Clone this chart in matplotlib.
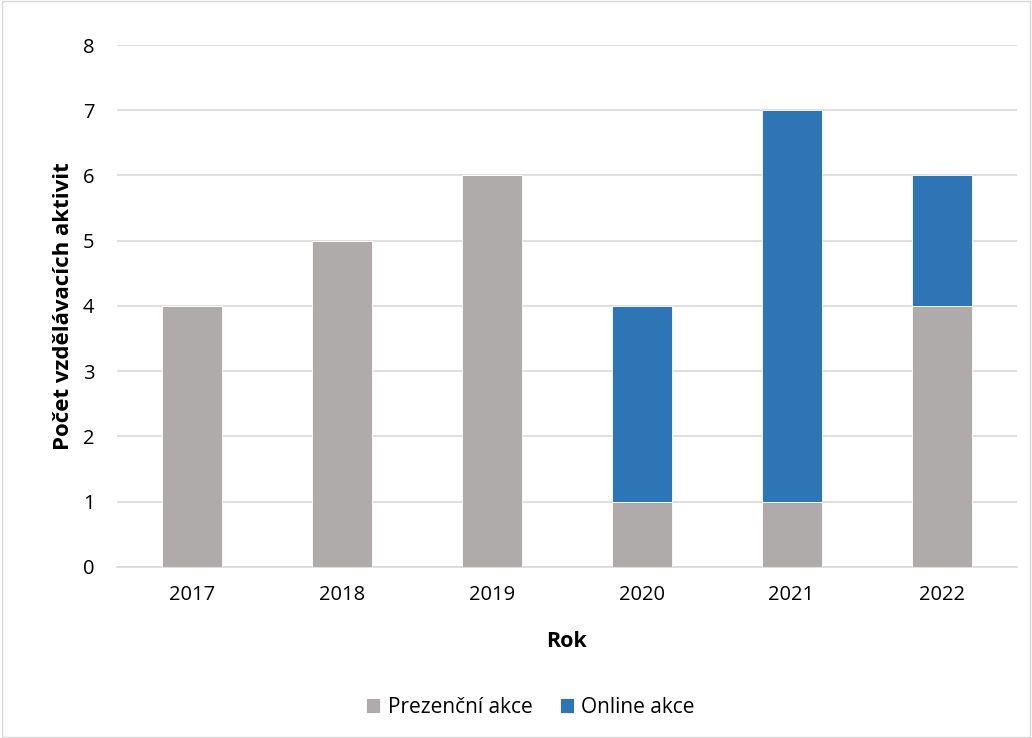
import matplotlib.pyplot as plt
import numpy as np

plt.rcParams['font.family'] = ['Open Sans', 'DejaVu Sans']

# data
years = ['2017', '2018', '2019', '2020', '2021', '2022']
prezencni = [4, 5, 6, 1, 1, 4]
online = [0, 0, 0, 3, 6, 2]

fig = plt.figure(figsize=(10.32, 7.38), dpi=100)
ax = fig.add_axes([0.113, 0.232, 0.872, 0.707])

x = np.arange(len(years))
ax.bar(x, prezencni, width=0.4, color='#AFABAB', edgecolor='white', linewidth=0.6,
       label='Prezenční akce', zorder=3)
ax.bar(x, online, width=0.4, bottom=prezencni, color='#2E75B6', edgecolor='white',
       linewidth=0.6, label='Online akce', zorder=3)

ax.set_xlim(-0.5, len(years) - 0.5)
ax.set_ylim(0, 8)
ax.set_yticks(range(0, 9))
ax.set_xticks(x)
ax.set_xticklabels(years)
ax.grid(axis='y', color='#D9D9D9', linewidth=1.2, zorder=0)
for s in ['top', 'right', 'left']:
    ax.spines[s].set_visible(False)
ax.spines['bottom'].set_color('#D9D9D9')
ax.spines['bottom'].set_linewidth(1.2)
ax.tick_params(axis='both', length=0, labelsize=14.5, colors='black')
ax.tick_params(axis='x', pad=13)
ax.tick_params(axis='y', pad=16)

ax.set_xlabel('Rok', fontsize=15.5, fontweight='bold', labelpad=19)
ax.set_ylabel('Počet vzdělávacích aktivit', fontsize=16, fontweight='bold', labelpad=6)

ax.legend(loc='center', bbox_to_anchor=(0.514, 0.042), bbox_transform=fig.transFigure,
          ncol=2, frameon=False, fontsize=15, handlelength=0.7, handleheight=0.7,
          columnspacing=1.3, handletextpad=0.35)

# thin frame around the whole chart
fig.patches.append(plt.Rectangle((0.002, 0.002), 0.996, 0.996, transform=fig.transFigure,
                                 fill=False, edgecolor='#D9D9D9', linewidth=1))

fig.savefig('out.png', dpi=100)
